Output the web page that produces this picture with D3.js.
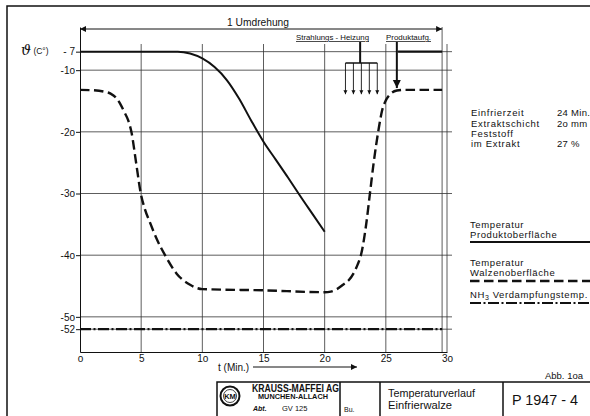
<!DOCTYPE html>
<html><head><meta charset="utf-8">
<script src="https://cdn.jsdelivr.net/npm/d3@7"></script>
<style>body{margin:0;background:#fff} svg{display:block} text{font-family:"Liberation Sans",Arial,sans-serif;fill:#111}</style>
</head><body>
<svg id="c" width="590" height="416"></svg>
<script>
// ---- data ----
const xTicks = [0,5,10,15,20,25,30];
const xTickLabels = ["o","5","1o","15","2o","25","3o"];
const yTicks = [-7,-10,-20,-30,-40,-50,-52];
const yTickLabels = ["- 7","-1o","-2o","-3o","-4o","-5o","-52"];
const rotationEnd = 29.6;
const productSurfaceA = [[0,-7],[8,-7],[9,-7.3],[10,-8.1],[11,-9.5],[12,-11.6],[13,-14.6],[14,-18.2],[15,-21.6],[16,-24.5],[17,-27.4],[18,-30.4],[19,-33.3],[20,-36.2]];
const productSurfaceB = [[26,-7],[29.6,-7]];
const rollSurface = [[0,-13.2],[1,-13.25],[2,-13.5],[2.5,-13.8],[3,-14.6],[3.3,-15.5],[3.6,-16.7],[3.95,-18.2],[4.2,-20],[4.6,-25.2],[4.96,-29.9],[5.3,-32.5],[5.7,-34.6],[6.3,-37.5],[6.95,-40],[7.9,-43],[9,-44.8],[10,-45.5],[15,-45.7],[20,-46],[20.5,-45.9],[21,-45.5],[21.5,-44.8],[22,-44],[22.35,-43],[22.7,-41.5],[23,-39.7],[23.4,-34.9],[23.7,-30],[24,-25.1],[24.4,-19.7],[24.7,-16.5],[25,-14.9],[25.3,-14],[25.9,-13.3],[26.5,-13.2],[29.6,-13.2]];
const nh3 = [[0,-52],[29.6,-52]];
const heatingArrows = [21.7,22.35,23.0,23.65,24.3];
const heatingStem = 22.9;
const productArrow = 25.9;
const infoRows = [["Einfrierzeit","24 Min."],["Extraktschicht","2o mm"],["Feststoff",""],["im Extrakt","27 %"]];

// ---- drawing ----
const svg = d3.select("#c");
const x = d3.scaleLinear().domain([0,30]).range([80,447]);
const y = d3.scaleLinear().domain([-3,-55.7]).range([27,352]);
const ink = "#111";

const defs = svg.append("defs");
function marker(id, w, h){
  defs.append("marker").attr("id",id).attr("viewBox","0 0 10 10").attr("refX",10).attr("refY",5)
    .attr("markerWidth",w).attr("markerHeight",h).attr("markerUnits","userSpaceOnUse").attr("orient","auto-start-reverse")
    .append("path").attr("d","M0,0 L10,5 L0,10 Z").attr("fill",ink);
}
marker("arr",8,6); marker("arrS",4,5); marker("arrB",8,9);

// frame
svg.append("path").attr("d","M7,416 V6 H590").attr("fill","none").attr("stroke",ink).attr("stroke-width",1.5);

// grid
const g = svg.append("g");
g.selectAll("line.h").data(yTicks).join("line")
  .attr("x1",x(0)).attr("x2",x(30)+5).attr("y1",d=>y(d)).attr("y2",d=>y(d))
  .attr("stroke","#333").attr("stroke-width",0.8);
g.selectAll("line.v").data(xTicks.slice(1)).join("line")
  .attr("x1",d=>x(d)).attr("x2",d=>x(d)).attr("y1",44).attr("y2",y(-55.7))
  .attr("stroke","#333").attr("stroke-width",0.8);
g.append("line").attr("x1",x(rotationEnd)).attr("x2",x(rotationEnd)).attr("y1",27).attr("y2",y(-55.7))
  .attr("stroke","#333").attr("stroke-width",0.8);

// axes
const ya = svg.append("g").attr("transform",`translate(${x(0)},0)`)
  .call(d3.axisLeft(y).tickValues(yTicks).tickFormat((d,i)=>yTickLabels[i]).tickSize(4).tickSizeOuter(0).tickPadding(1));
ya.selectAll("text").attr("font-size",10).attr("font-family","Liberation Sans, Arial").attr("fill",ink);
ya.selectAll("line,path").attr("stroke",ink);
const xa = svg.append("g").attr("transform",`translate(0,${y(-55.7)})`)
  .call(d3.axisBottom(x).tickValues(xTicks).tickFormat((d,i)=>xTickLabels[i]).tickSize(0).tickSizeOuter(0).tickPadding(3));
xa.selectAll("text").attr("font-size",10).attr("font-family","Liberation Sans, Arial").attr("fill",ink);
xa.selectAll("path").attr("stroke",ink);

// axis titles
const th = svg.append("text").attr("x",21).attr("y",55);
th.append("tspan").text("ϑ").attr("font-family","DejaVu Serif, serif").attr("font-style","italic").attr("font-size",14);
th.append("tspan").text(" (C°)").attr("font-size",8.5).attr("dy",-1);
svg.append("text").attr("x",218).attr("y",371).attr("font-size",10).text("t (Min.)");
svg.append("line").attr("x1",253).attr("x2",357).attr("y1",367).attr("y2",367).attr("stroke",ink).attr("stroke-width",1).attr("marker-end","url(#arr)");

// 1 Umdrehung
svg.append("line").attr("x1",x(0)).attr("x2",x(rotationEnd)).attr("y1",29).attr("y2",29)
  .attr("stroke",ink).attr("stroke-width",1).attr("marker-start","url(#arr)").attr("marker-end","url(#arr)");
svg.append("text").attr("x",227).attr("y",26).attr("font-size",11).attr("textLength",62).attr("lengthAdjust","spacingAndGlyphs").text("1 Umdrehung");

// curves
const line = d3.line().x(d=>x(d[0])).y(d=>y(d[1])).curve(d3.curveMonotoneX);
svg.append("path").attr("d",line(productSurfaceA)).attr("fill","none").attr("stroke",ink).attr("stroke-width",2);
svg.append("path").attr("d",line(productSurfaceB)).attr("fill","none").attr("stroke",ink).attr("stroke-width",2.2);
svg.append("path").attr("d",line(rollSurface)).attr("fill","none").attr("stroke",ink).attr("stroke-width",2.4).attr("stroke-dasharray","9.5,4.5");
svg.append("path").attr("d",line(nh3)).attr("fill","none").attr("stroke",ink).attr("stroke-width",2.2).attr("stroke-dasharray","11,2.5,2,2.5");

// heating annotation
svg.append("text").attr("x",296).attr("y",40).attr("font-size",7.5).attr("text-decoration","underline").attr("textLength",73).attr("lengthAdjust","spacingAndGlyphs").text("Strahlungs - Heizung");
svg.append("line").attr("x1",x(heatingStem)).attr("x2",x(heatingStem)).attr("y1",42).attr("y2",63).attr("stroke",ink).attr("stroke-width",2);
svg.append("line").attr("x1",x(heatingArrows[0])).attr("x2",x(heatingArrows[4])).attr("y1",63).attr("y2",63).attr("stroke",ink).attr("stroke-width",1.5);
svg.selectAll("line.ha").data(heatingArrows).join("line")
  .attr("x1",d=>x(d)).attr("x2",d=>x(d)).attr("y1",63).attr("y2",y(-13.9))
  .attr("stroke",ink).attr("stroke-width",0.9).attr("marker-end","url(#arrS)");
svg.append("text").attr("x",386).attr("y",40).attr("font-size",7.5).attr("text-decoration","underline").attr("textLength",45).attr("lengthAdjust","spacingAndGlyphs").text("Produktaufg.");
svg.append("line").attr("x1",x(productArrow)).attr("x2",x(productArrow)).attr("y1",42).attr("y2",y(-12.9))
  .attr("stroke",ink).attr("stroke-width",2).attr("marker-end","url(#arrB)");

// info block
const infoY = [116,127,136.5,147];
infoRows.forEach((r,i)=>{
  svg.append("text").attr("x",471).attr("y",infoY[i]).attr("font-size",9.5).attr("letter-spacing",0.7).text(r[0]);
  if(r[1]) svg.append("text").attr("x",557).attr("y",infoY[i]).attr("font-size",9.5).attr("letter-spacing",0.3).text(r[1]);
});

// legend
function legText(lines, y0){ lines.forEach((t,i)=>svg.append("text").attr("x",470).attr("y",y0+i*9.5).attr("font-size",9.5).attr("letter-spacing",0.6).text(t)); }
legText(["Temperatur","Produktoberfläche"],228);
svg.append("line").attr("x1",470).attr("x2",590).attr("y1",242).attr("y2",242).attr("stroke",ink).attr("stroke-width",2.2);
legText(["Temperatur","Walzenoberfläche"],266);
svg.append("line").attr("x1",470).attr("x2",590).attr("y1",281).attr("y2",281).attr("stroke",ink).attr("stroke-width",2.4).attr("stroke-dasharray","9.5,4.5");
const nt = svg.append("text").attr("x",470).attr("y",298).attr("font-size",9.5).attr("letter-spacing",0.6);
nt.append("tspan").text("NH");
nt.append("tspan").text("3").attr("font-size",7).attr("dy",2);
nt.append("tspan").text(" Verdampfungstemp.").attr("dy",-2);
svg.append("line").attr("x1",470).attr("x2",590).attr("y1",303).attr("y2",303).attr("stroke",ink).attr("stroke-width",2.2).attr("stroke-dasharray","11,2.5,2,2.5");

// Abb
svg.append("text").attr("x",583).attr("y",379).attr("text-anchor","end").attr("font-size",9.5).text("Abb. 1oa");

// title block
svg.append("path").attr("d","M217,416 V382 H590 M340,382 V416 M380,382 V416 M503,382 V416").attr("fill","none").attr("stroke",ink).attr("stroke-width",1.5);
svg.append("circle").attr("cx",230).attr("cy",396).attr("r",9.5).attr("fill","none").attr("stroke",ink).attr("stroke-width",2);
svg.append("circle").attr("cx",230).attr("cy",396).attr("r",6.5).attr("fill","none").attr("stroke",ink).attr("stroke-width",0.8);
svg.append("text").attr("x",230).attr("y",399).attr("text-anchor","middle").attr("font-size",7.5).attr("font-weight","bold").text("KM");
svg.append("text").attr("x",252).attr("y",392).attr("font-size",10).attr("font-weight","bold").attr("textLength",87).attr("lengthAdjust","spacingAndGlyphs").text("KRAUSS-MAFFEI AG");
svg.append("text").attr("x",258).attr("y",399).attr("font-size",7).attr("font-weight","bold").attr("textLength",70).attr("lengthAdjust","spacingAndGlyphs").text("MUNCHEN-ALLACH");
svg.append("text").attr("x",253).attr("y",411).attr("font-size",7).attr("font-style","italic").attr("font-weight","bold").text("Abt.");
svg.append("text").attr("x",282).attr("y",411).attr("font-size",7.5).text("GV 125");
svg.append("text").attr("x",344).attr("y",412).attr("font-size",7).text("Bu.");
svg.append("text").attr("x",388).attr("y",397).attr("font-size",10).attr("textLength",87).attr("lengthAdjust","spacingAndGlyphs").text("Temperaturverlauf");
svg.append("text").attr("x",388).attr("y",409).attr("font-size",10).attr("textLength",64).attr("lengthAdjust","spacingAndGlyphs").text("Einfrierwalze");
svg.append("text").attr("x",512).attr("y",405).attr("font-size",15).attr("textLength",66).attr("lengthAdjust","spacingAndGlyphs").text("P 1947 - 4");
</script>
</body></html>
